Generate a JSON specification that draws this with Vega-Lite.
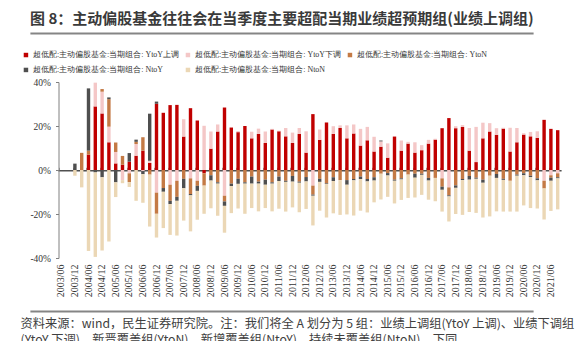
{
  "$schema": "https://vega.github.io/schema/vega-lite/v6.json",
  "width": 571,
  "height": 284,
  "autosize": {"type": "none"},
  "padding": {"left": 10, "top": 30, "right": 0, "bottom": 27},
  "background": "white",
  "config": {"view": {"stroke": null}},
  "title": {
    "text": "图 8：主动偏股基金往往会在当季度主要超配当期业绩超预期组(业绩上调组)",
    "anchor": "start",
    "frame": "group",
    "dx": 20,
    "dy": 14,
    "offset": 5,
    "baseline": "alphabetic",
    "font": "Noto Sans CJK SC",
    "fontSize": 15,
    "fontWeight": "bold",
    "color": "#3a3a3a"
  },
  "data": {
    "values": [
      {"q": "2003/06", "1 YtoY上调": 0, "2 YtoY下调": 0, "3 YtoN": 0, "4 NtoY": 0, "5 NtoN": 0},
      {"q": "2003/09", "1 YtoY上调": 0, "2 YtoY下调": 0, "3 YtoN": 0, "4 NtoY": 0, "5 NtoN": 0},
      {"q": "2003/12", "1 YtoY上调": 0, "2 YtoY下调": 0, "3 YtoN": 0, "4 NtoY": 2.9, "5 NtoN": -2.6},
      {"q": "2004/03", "1 YtoY上调": 0, "2 YtoY下调": 0, "3 YtoN": 7.8, "4 NtoY": 0, "5 NtoN": -7.9},
      {"q": "2004/06", "1 YtoY上调": 7, "2 YtoY下调": 0, "3 YtoN": 1.8, "4 NtoY": 28.3, "5 NtoN": -36.8},
      {"q": "2004/09", "1 YtoY上调": 28.9, "2 YtoY下调": 10.8, "3 YtoN": 0, "4 NtoY": -1.1, "5 NtoN": -38.4},
      {"q": "2004/12", "1 YtoY上调": 25.7, "2 YtoY下调": 9.9, "3 YtoN": 1.2, "4 NtoY": -3.3, "5 NtoN": -33.3},
      {"q": "2005/03", "1 YtoY上调": 12.6, "2 YtoY下调": 7.1, "3 YtoN": 12.5, "4 NtoY": 0.8, "5 NtoN": -32.5},
      {"q": "2005/06", "1 YtoY上调": 3, "2 YtoY下调": 5.2, "3 YtoN": 4.3, "4 NtoY": -5.6, "5 NtoN": -6.7},
      {"q": "2005/09", "1 YtoY上调": 2.4, "2 YtoY下调": -4.6, "3 YtoN": 4, "4 NtoY": 0, "5 NtoN": -1.4},
      {"q": "2005/12", "1 YtoY上调": 3.8, "2 YtoY下调": -1.5, "3 YtoN": -4, "4 NtoY": 3.9, "5 NtoN": -2.2},
      {"q": "2006/03", "1 YtoY上调": 6.5, "2 YtoY下调": 5.3, "3 YtoN": 1, "4 NtoY": 1, "5 NtoN": -14},
      {"q": "2006/06", "1 YtoY上调": 8.8, "2 YtoY下调": -0.5, "3 YtoN": 6.1, "4 NtoY": -1.4, "5 NtoN": -13},
      {"q": "2006/09", "1 YtoY上调": 3.2, "2 YtoY下调": 1, "3 YtoN": -2.1, "4 NtoY": 21.4, "5 NtoN": -23.6},
      {"q": "2006/12", "1 YtoY上调": 30.1, "2 YtoY下调": -10.3, "3 YtoN": -9.6, "4 NtoY": 1, "5 NtoN": -10.8},
      {"q": "2007/03", "1 YtoY上调": 26, "2 YtoY下调": 0, "3 YtoN": -8.2, "4 NtoY": -1.7, "5 NtoN": -16.5},
      {"q": "2007/06", "1 YtoY上调": 29.5, "2 YtoY下调": -6.7, "3 YtoN": -7.3, "4 NtoY": -1.5, "5 NtoN": -14},
      {"q": "2007/09", "1 YtoY上调": 29.6, "2 YtoY下调": -4.9, "3 YtoN": -7.3, "4 NtoY": -1.8, "5 NtoN": -15.8},
      {"q": "2007/12", "1 YtoY上调": 15.2, "2 YtoY下调": 7.9, "3 YtoN": -4, "4 NtoY": -4.3, "5 NtoN": -14.7},
      {"q": "2008/03", "1 YtoY上调": 28.1, "2 YtoY下调": -3.8, "3 YtoN": -7.1, "4 NtoY": -0.6, "5 NtoN": -16.4},
      {"q": "2008/06", "1 YtoY上调": 22.5, "2 YtoY下调": -4.9, "3 YtoN": -2.3, "4 NtoY": -2.3, "5 NtoN": -13.1},
      {"q": "2008/09", "1 YtoY上调": -1.5, "2 YtoY下调": 20.1, "3 YtoN": -5.6, "4 NtoY": 0, "5 NtoN": -12.8},
      {"q": "2008/12", "1 YtoY上调": 9.7, "2 YtoY下调": 7.8, "3 YtoN": -2.4, "4 NtoY": -2.4, "5 NtoN": -12.6},
      {"q": "2009/03", "1 YtoY上调": 17.5, "2 YtoY下调": 3.2, "3 YtoN": -5.6, "4 NtoY": -0.6, "5 NtoN": -14.6},
      {"q": "2009/06", "1 YtoY上调": 28.4, "2 YtoY下调": -11.7, "3 YtoN": -2.6, "4 NtoY": -2, "5 NtoN": -12.2},
      {"q": "2009/09", "1 YtoY上调": 19.3, "2 YtoY下调": 0, "3 YtoN": -6.2, "4 NtoY": -1.1, "5 NtoN": -12.3},
      {"q": "2009/12", "1 YtoY上调": 17.2, "2 YtoY下调": 0.5, "3 YtoN": -4, "4 NtoY": -2.3, "5 NtoN": -11.2},
      {"q": "2010/03", "1 YtoY上调": 20, "2 YtoY下调": 0, "3 YtoN": -5.6, "4 NtoY": -0.6, "5 NtoN": -13.7},
      {"q": "2010/06", "1 YtoY上调": 14.4, "2 YtoY下调": 3, "3 YtoN": -3, "4 NtoY": -3.2, "5 NtoN": -11.1},
      {"q": "2010/09", "1 YtoY上调": 16.4, "2 YtoY下调": 2.4, "3 YtoN": -5.3, "4 NtoY": -0.9, "5 NtoN": -12.6},
      {"q": "2010/12", "1 YtoY上调": 12.3, "2 YtoY下调": 5.2, "3 YtoN": -4.4, "4 NtoY": -2.3, "5 NtoN": -10.6},
      {"q": "2011/03", "1 YtoY上调": 18.4, "2 YtoY下调": 0.3, "3 YtoN": -5.6, "4 NtoY": -0.6, "5 NtoN": -12.6},
      {"q": "2011/06", "1 YtoY上调": 17.6, "2 YtoY下调": 0.3, "3 YtoN": -3, "4 NtoY": -2, "5 NtoN": -12.6},
      {"q": "2011/09", "1 YtoY上调": 15.3, "2 YtoY下调": 3.8, "3 YtoN": -4.9, "4 NtoY": -0.5, "5 NtoN": -13.5},
      {"q": "2011/12", "1 YtoY上调": 12.3, "2 YtoY下调": 4.7, "3 YtoN": -2.7, "4 NtoY": -2.6, "5 NtoN": -11.7},
      {"q": "2012/03", "1 YtoY上调": 16.4, "2 YtoY下调": 2.7, "3 YtoN": -5.3, "4 NtoY": -0.5, "5 NtoN": -13.4},
      {"q": "2012/06", "1 YtoY上调": 7.9, "2 YtoY下调": 9.7, "3 YtoN": -3.2, "4 NtoY": -2, "5 NtoN": -12.5},
      {"q": "2012/09", "1 YtoY上调": 25.4, "2 YtoY下调": -7.1, "3 YtoN": -4.1, "4 NtoY": -0.5, "5 NtoN": -13.5},
      {"q": "2012/12", "1 YtoY上调": 13.7, "2 YtoY下调": 4.7, "3 YtoN": -4, "4 NtoY": -1.4, "5 NtoN": -13.1},
      {"q": "2013/03", "1 YtoY上调": 21.6, "2 YtoY下调": 0, "3 YtoN": -6.1, "4 NtoY": -0.3, "5 NtoN": -15.2},
      {"q": "2013/06", "1 YtoY上调": 16.4, "2 YtoY下调": 3.5, "3 YtoN": -3.3, "4 NtoY": -1.7, "5 NtoN": -14.7},
      {"q": "2013/09", "1 YtoY上调": 19.1, "2 YtoY下调": 1.2, "3 YtoN": -4.6, "4 NtoY": 0, "5 NtoN": -15.8},
      {"q": "2013/12", "1 YtoY上调": 14.4, "2 YtoY下调": 5.9, "3 YtoN": -4.6, "4 NtoY": -2.1, "5 NtoN": -13.5},
      {"q": "2014/03", "1 YtoY上调": 16.6, "2 YtoY下调": 4.1, "3 YtoN": -4.1, "4 NtoY": -0.6, "5 NtoN": -16},
      {"q": "2014/06", "1 YtoY上调": 11.1, "2 YtoY下调": 7.6, "3 YtoN": -3, "4 NtoY": -1.1, "5 NtoN": -14.4},
      {"q": "2014/09", "1 YtoY上调": 13.5, "2 YtoY下调": 6.1, "3 YtoN": -4.1, "4 NtoY": -1.1, "5 NtoN": -14.1},
      {"q": "2014/12", "1 YtoY上调": 8.4, "2 YtoY下调": 6.7, "3 YtoN": -3.3, "4 NtoY": -1.5, "5 NtoN": -9.9},
      {"q": "2015/03", "1 YtoY上调": 10.6, "2 YtoY下调": 2.4, "3 YtoN": -1.7, "4 NtoY": 0.4, "5 NtoN": -11.7},
      {"q": "2015/06", "1 YtoY上调": 5.6, "2 YtoY下调": 6.5, "3 YtoN": -1.4, "4 NtoY": -1.1, "5 NtoN": -9.7},
      {"q": "2015/09", "1 YtoY上调": 15.2, "2 YtoY下调": 0, "3 YtoN": -4.4, "4 NtoY": -0.5, "5 NtoN": -10.3},
      {"q": "2015/12", "1 YtoY上调": 8.8, "2 YtoY下调": 4.6, "3 YtoN": -3.8, "4 NtoY": -0.5, "5 NtoN": -9.3},
      {"q": "2016/03", "1 YtoY上调": 12, "2 YtoY下调": 0.8, "3 YtoN": -2.1, "4 NtoY": 0, "5 NtoN": -10.6},
      {"q": "2016/06", "1 YtoY上调": 7.9, "2 YtoY下调": 4.7, "3 YtoN": -1.7, "4 NtoY": -1.8, "5 NtoN": -9},
      {"q": "2016/09", "1 YtoY上调": 9, "2 YtoY下调": 2.3, "3 YtoN": -1.7, "4 NtoY": -0.5, "5 NtoN": -9.1},
      {"q": "2016/12", "1 YtoY上调": 12, "2 YtoY下调": 1.7, "3 YtoN": -3.6, "4 NtoY": -1.2, "5 NtoN": -8.7},
      {"q": "2017/03", "1 YtoY上调": 13.8, "2 YtoY下调": 0.4, "3 YtoN": -3.6, "4 NtoY": 0, "5 NtoN": -10.6},
      {"q": "2017/06", "1 YtoY上调": 19, "2 YtoY下调": -3.8, "3 YtoN": -3.8, "4 NtoY": -1.4, "5 NtoN": -9.9},
      {"q": "2017/09", "1 YtoY上调": 23.6, "2 YtoY下调": -7.9, "3 YtoN": -3.6, "4 NtoY": -0.5, "5 NtoN": -11.4},
      {"q": "2017/12", "1 YtoY上调": 19, "2 YtoY下调": 0.9, "3 YtoN": -7, "4 NtoY": -1.1, "5 NtoN": -11.9},
      {"q": "2018/03", "1 YtoY上调": 19.6, "2 YtoY下调": 0.8, "3 YtoN": -4.1, "4 NtoY": -0.5, "5 NtoN": -15.8},
      {"q": "2018/06", "1 YtoY上调": 8.8, "2 YtoY下调": 10.3, "3 YtoN": -2.7, "4 NtoY": -1.7, "5 NtoN": -14.7},
      {"q": "2018/09", "1 YtoY上调": 3.6, "2 YtoY下调": 16, "3 YtoN": -3.5, "4 NtoY": -0.5, "5 NtoN": -15.5},
      {"q": "2018/12", "1 YtoY上调": 14.4, "2 YtoY下调": 7.1, "3 YtoN": -4.4, "4 NtoY": -1.4, "5 NtoN": -15.8},
      {"q": "2019/03", "1 YtoY上调": 17.5, "2 YtoY下调": 3.8, "3 YtoN": -2.6, "4 NtoY": 0, "5 NtoN": -18.5},
      {"q": "2019/06", "1 YtoY上调": 16, "2 YtoY下调": 3, "3 YtoN": -1.8, "4 NtoY": -1.8, "5 NtoN": -15.2},
      {"q": "2019/09", "1 YtoY上调": 18.8, "2 YtoY下调": 0.4, "3 YtoN": -4, "4 NtoY": -0.5, "5 NtoN": -14.4},
      {"q": "2019/12", "1 YtoY上调": 8.4, "2 YtoY下调": 10.8, "3 YtoN": -4.9, "4 NtoY": 0, "5 NtoN": -14},
      {"q": "2020/03", "1 YtoY上调": 12.6, "2 YtoY下调": 6.5, "3 YtoN": -2.1, "4 NtoY": -0.5, "5 NtoN": -16.3},
      {"q": "2020/06", "1 YtoY上调": 16.1, "2 YtoY下调": 0.6, "3 YtoN": -1.5, "4 NtoY": -0.9, "5 NtoN": -13.7},
      {"q": "2020/09", "1 YtoY上调": 15.3, "2 YtoY下调": 2, "3 YtoN": -2.6, "4 NtoY": -0.6, "5 NtoN": -14.1},
      {"q": "2020/12", "1 YtoY上调": 14.6, "2 YtoY下调": 3, "3 YtoN": -3.8, "4 NtoY": -0.9, "5 NtoN": -12.8},
      {"q": "2021/03", "1 YtoY上调": 22.8, "2 YtoY下调": -4.9, "3 YtoN": -3.5, "4 NtoY": 0, "5 NtoN": -14.1},
      {"q": "2021/06", "1 YtoY上调": 18.7, "2 YtoY下调": -2.4, "3 YtoN": -1.1, "4 NtoY": -1.4, "5 NtoN": -13.7},
      {"q": "2021/09", "1 YtoY上调": 18.1, "2 YtoY下调": -1.5, "3 YtoN": -1.8, "4 NtoY": -0.5, "5 NtoN": -14.1}
    ]
  },
  "transform": [
    {"fold": ["1 YtoY上调", "2 YtoY下调", "3 YtoN", "4 NtoY", "5 NtoN"], "as": ["series", "value"]}
  ],
  "layer": [
    {
      "mark": {"type": "bar"},
      "encoding": {
        "x": {
          "field": "q",
          "type": "ordinal",
          "scale": {"range": [47.9, 551.1], "paddingInner": 0.5, "paddingOuter": 0.25},
          "axis": {
            "orient": "bottom",
            "title": ["资料来源：wind，民生证券研究院。注：我们将全 A 划分为 5 组：业绩上调组(YtoY 上调)、业绩下调组", "(YtoY 下调)、新晋覆盖组(YtoN)、新增覆盖组(NtoY)、持续未覆盖组(NtoN)，下同。"],
            "titleFont": "Noto Sans CJK SC",
            "titleFontSize": 12.25,
            "titleFontWeight": "normal",
            "titleColor": "#404040",
            "titleAnchor": "start",
            "titleAlign": "left",
            "titleBaseline": "alphabetic",
            "titleX": 10,
            "titleY": 65,
            "titleLineHeight": 16.5,
            "offset": -52,
            "domain": false,
            "ticks": false,
            "labelAngle": -90,
            "labelPadding": 2,
            "labelFont": "Liberation Serif",
            "labelFontSize": 10,
            "labelColor": "#333333",
            "labelExpr": "indexof(datum.label, '/06') > 0 || indexof(datum.label, '/12') > 0 ? datum.label : ''"
          }
        },
        "y": {
          "field": "value",
          "type": "quantitative",
          "stack": "zero",
          "scale": {"domain": [-40, 40], "range": [228, 52], "nice": false, "zero": false},
          "axis": {
            "orient": "left",
            "offset": -48.5,
            "values": [-40, -20, 0, 20, 40],
            "labelExpr": "datum.value + '%'",
            "title": null,
            "grid": false,
            "domainColor": "#808080",
            "tickColor": "#808080",
            "tickSize": 3,
            "labelPadding": 5,
            "labelFont": "Liberation Serif",
            "labelFontSize": 9.5,
            "labelColor": "#333333"
          }
        },
        "color": {
          "field": "series",
          "type": "nominal",
          "scale": {
            "domain": ["1 YtoY上调", "2 YtoY下调", "3 YtoN", "4 NtoY", "5 NtoN"],
            "range": ["#C00000", "#F4C7C7", "#C47A45", "#4F4F4F", "#EBD7B5"]
          },
          "legend": {
            "orient": "none",
            "legendX": 12,
            "legendY": 21,
            "direction": "horizontal",
            "columns": 3,
            "title": null,
            "padding": 0,
            "symbolType": "square",
            "symbolSize": 20,
            "symbolStrokeWidth": 0,
            "labelOffset": 3,
            "columnPadding": 5,
            "rowPadding": 6,
            "labelFont": "Liberation Serif",
            "labelFontSize": 7.9,
            "labelColor": "#333333",
            "labelLimit": 300,
            "labelExpr": "'超低配:主动偏股基金:当期组合: ' + substring(datum.label, 2)"
          }
        },
        "order": {"field": "series", "sort": "ascending"}
      }
    },
    {
      "mark": {"type": "bar", "opacity": 0},
      "encoding": {
        "x": {
          "field": "q",
          "type": "ordinal",
          "axis": {
            "orient": "top",
            "offset": -140.3,
            "labels": false,
            "title": null,
            "domainColor": "#505050",
            "domainWidth": 1.5,
            "ticks": true,
            "tickSize": 3,
            "tickColor": "#9a9a9a",
            "bandPosition": 0,
            "values": ["2003/06", "2003/12", "2004/06", "2004/12", "2005/06", "2005/12", "2006/06", "2006/12", "2007/06", "2007/12", "2008/06", "2008/12", "2009/06", "2009/12", "2010/06", "2010/12", "2011/06", "2011/12", "2012/06", "2012/12", "2013/06", "2013/12", "2014/06", "2014/12", "2015/06", "2015/12", "2016/06", "2016/12", "2017/06", "2017/12", "2018/06", "2018/12", "2019/06", "2019/12", "2020/06", "2020/12", "2021/06"]
          }
        },
        "y": {
          "datum": 0,
          "type": "quantitative",
          "scale": {"domain": [0, 284], "nice": false, "zero": false},
          "axis": {
            "orient": "right",
            "values": [281.5, 3.3],
            "grid": true,
            "gridColor": "#858585",
            "gridWidth": 2,
            "labels": false,
            "ticks": false,
            "domain": false,
            "title": null
          }
        }
      }
    }
  ],
  "resolve": {"scale": {"y": "independent"}, "axis": {"x": "independent", "y": "independent"}}
}
